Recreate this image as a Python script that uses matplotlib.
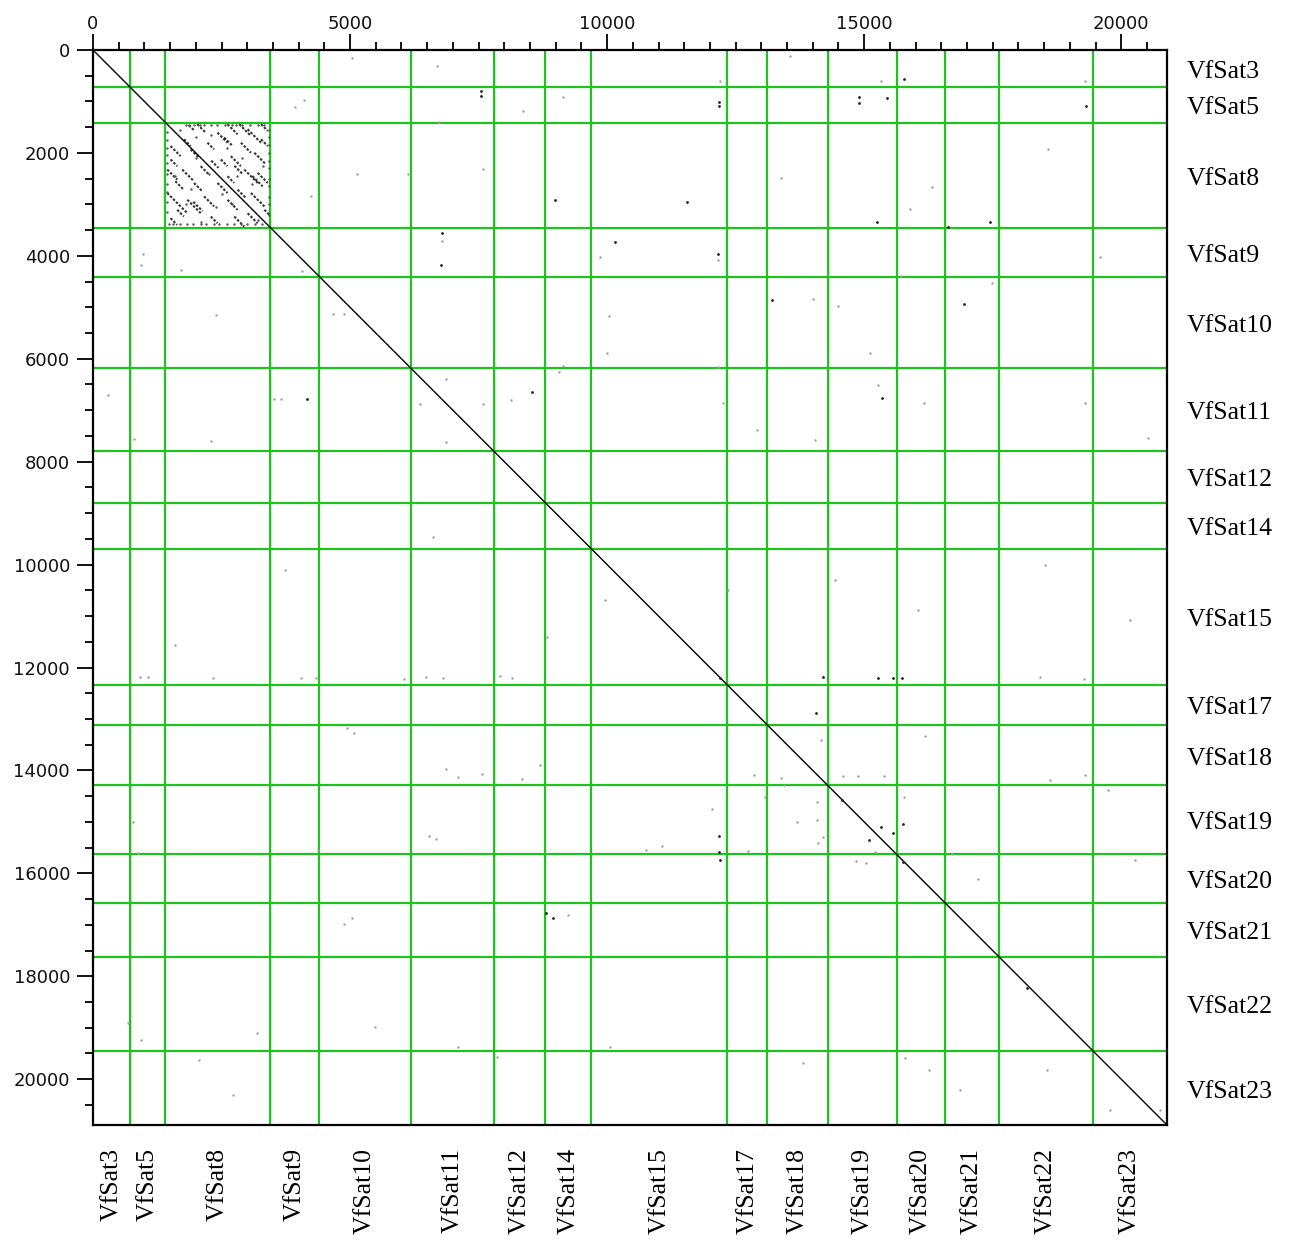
import matplotlib
matplotlib.use("Agg")
import matplotlib.pyplot as plt
from matplotlib.ticker import MultipleLocator, FixedLocator
from matplotlib.transforms import offset_copy
import numpy as np

# ---------------- data ----------------
seq_names = ["VfSat3", "VfSat5", "VfSat8", "VfSat9", "VfSat10", "VfSat11", "VfSat12",
             "VfSat14", "VfSat15", "VfSat17", "VfSat18", "VfSat19", "VfSat20",
             "VfSat21", "VfSat22", "VfSat23"]
# cumulative boundaries (sequence end positions)
seq_ends = [720, 1410, 3450, 4404, 6183, 7797, 8798, 9693, 12337, 13115,
            14291, 15633, 16576, 17616, 19454, 20890]

x_major_ticks = [0, 5000, 10000, 15000, 20000]
y_major_ticks = [0, 2000, 4000, 6000, 8000, 10000, 12000, 14000, 16000, 18000, 20000]

# VfSat8 internal repeat dashes: (x start, y start, length)
rep_x = [2029, 2616, 2844, 3268, 1866, 2421, 3007, 1899, 1508, 2877, 3138, 2095,
         2681, 1736, 1443, 3203, 2421, 2942, 2616, 1443, 1834, 2160, 2616, 3073,
         2290, 2747, 3007, 1508, 3333, 1769, 2225, 1508, 3268, 1964, 2812, 1638, 2486,
         2550, 1950, 3100, 2300, 1600, 2750]
rep_y = [1443, 1443, 1443, 1443, 1462, 1606, 1540, 1932, 1866, 1801, 1997, 2258,
         2062, 2323, 2323, 2388, 2584, 2323, 2453, 2779, 2910, 2844, 2910, 2779,
         3236, 3236, 3171, 3268, 3105, 1736, 1801, 2127, 1736, 2584, 2714, 3105, 2127,
         1700, 2950, 2450, 2150, 2550, 2250]
rep_len = [163, 196, 228, 130, 98, 196, 261, 163, 196, 196, 228, 163,
           196, 228, 196, 196, 196, 261, 130, 391, 261, 196, 196, 261,
           130, 196, 196, 130, 98, 130, 130, 130, 130, 163, 163, 130, 130,
           150, 180, 200, 140, 160, 170]

# faint dots inside VfSat8 self block
box_dot_x = [1800, 1870, 1960, 2080, 2150, 2300, 2420, 2560, 2700, 2780, 2900, 3050, 3200, 3330,
             1480, 1560, 1700, 1830, 1950, 2100, 2200, 2350, 2450, 2600, 2750, 2880, 3000, 3150, 3280,
             1440, 1440, 1440, 1440, 1440, 1440, 1440, 1440, 1440, 1440,
             3420, 3420, 3420, 3420, 3420, 3420, 3420, 3420, 3420, 3420, 3420,
             1700, 2000, 2300, 2600, 2900, 1600, 2000, 2250, 2500, 3100, 1800, 2100, 2700,
             3200, 1900, 2400, 2800, 3300]
box_dot_y = [1450, 1450, 1450, 1450, 1450, 1450, 1450, 1450, 1450, 1450, 1450, 1450, 1450, 1450,
             3390, 3390, 3390, 3390, 3390, 3390, 3390, 3390, 3390, 3390, 3390, 3390, 3390, 3390, 3390,
             1600, 1750, 1900, 2050, 2200, 2400, 2600, 2750, 2950, 3150,
             1550, 1700, 1850, 2000, 2150, 2300, 2500, 2650, 2850, 3000, 3200,
             1550, 1700, 1650, 1900, 2100, 2450, 2100, 2400, 2800, 2600, 3000, 3350, 3000,
             3300, 2700, 3050, 2450, 2250]

# darker scattered hits
dark_x = [15451, 15784, 7552, 7552, 12174, 12174, 14892, 14892, 19314, 6767, 6793, 12161,
          12196, 14563, 15762, 18166, 15328, 15749, 15094, 15567, 12183, 12183, 12196, 8947,
          8811, 15275, 15567, 15730, 14206, 14064, 16623, 15251, 17449, 10150, 11562, 8991,
          4156, 8538, 15344, 16943, 13213]
dark_y = [939, 570, 790, 894, 1004, 1088, 907, 1024, 1088, 4179, 3550, 3965,
          12212, 14577, 15776, 18235, 15108, 15044, 15355, 15225, 15277, 15582, 15743, 16874,
          16777, 12200, 12200, 12200, 12180, 12880, 3434, 3337, 3337, 3725, 2948, 2916,
          6790, 6641, 6771, 4937, 4859]

# faint scattered hits
faint_x = [12188, 15318, 19287, 6727, 7592, 6793, 12161, 9857, 19580, 15718, 17489, 14492,
           14013, 4662, 4888, 4063, 972, 932, 1705, 10043, 15118, 9990, 12161, 9137, 9058,
           6860, 15265, 16157, 3530, 3663, 6367, 7592, 8125, 12254, 19287, 2291, 799, 6860,
           14053, 12920, 20513, 293, 2398, 16317, 15891, 5128, 6127, 13387, 4236, 18581,
           13560, 6687, 5035, 4103, 3929, 8365, 9137,
           914, 1070, 2334, 4046, 4337, 6049, 6477, 6808, 7916, 8150, 18419, 19275, 778, 875,
           4376, 6535, 6671, 5076, 4940, 7099, 6866, 7566, 8344, 8694, 9239, 4882, 5038,
           10756, 11067, 12040, 13070, 13440, 13693, 16182, 16708, 17213, 18614, 19294, 19742,
           20267, 3190, 681, 934, 2062, 2723, 5485, 7099, 7858, 10056, 13810, 15793, 16260,
           16863, 18555, 19780, 20753, 8830, 3734, 6613, 12351, 18516, 16046, 9958, 1595,
           14432, 20170, 14583, 14887, 15386, 13383, 12863, 14161, 14077, 14077, 14096, 14206,
           15775, 14841, 15030, 15211, 12746]
faint_y = [603, 603, 603, 1393, 2319, 3706, 4082, 4030, 4030, 4393, 4535, 4976,
           4833, 5138, 5138, 4296, 3965, 4179, 4276, 5164, 5896, 5896, 6155, 6136, 6252,
           6401, 6518, 6855, 6790, 6790, 6881, 6881, 6803, 6855, 6855, 7600, 7568, 7613,
           7580, 7386, 7548, 6706, 5151, 2656, 3097, 2410, 2410, 2494, 2831, 1924,
           117, 305, 162, 972, 1101, 1179, 907,
           12189, 12189, 12208, 12208, 12208, 12228, 12189, 12208, 12169, 12208, 12189, 12228, 15008, 15610,
           15552, 15280, 15338, 13278, 13180, 14133, 13977, 14075, 14172, 13900, 16815, 16991, 16874,
           15552, 15474, 14755, 14522, 14288, 15008, 13336, 15630, 16116, 14191, 14094, 14386,
           15746, 19110, 18915, 19246, 19634, 20315, 18993, 19382, 19576, 19382, 19693, 19595, 19829,
           20218, 19829, 20606, 20606, 11411, 10109, 9467, 10498, 10012, 10886, 10692, 11567,
           10303, 11081, 14111, 14111, 14111, 14156, 14092, 13411, 14610, 14966, 15406, 15290,
           14513, 15757, 15796, 15582, 15563]

# ---------------- figure ----------------
W, H = 1292, 1241
fig = plt.figure(figsize=(W / 100, H / 100), dpi=100)
ax = fig.add_axes([93 / W, (H - 1125) / H, 1074 / W, 1075 / H])

total = seq_ends[-1]
ax.set_xlim(0, total)
ax.set_ylim(total, 0)

green = "#1ec31e"
for b in seq_ends[:-1]:
    ax.axvline(b, color=green, lw=1.6, zorder=1)
    ax.axhline(b, color=green, lw=1.6, zorder=1)

# self-match diagonal
ax.plot([0, total], [0, total], color="black", lw=1.0, zorder=3)

# repeat dashes in VfSat8
for x0, y0, L in zip(rep_x, rep_y, rep_len):
    ax.plot([x0, x0 + L], [y0, y0 + L], color="black", lw=1.5, alpha=0.8,
            linestyle=(0, (1.2, 0.8)), zorder=3)
ax.scatter(box_dot_x, box_dot_y, s=3, color="#555555", linewidths=0, zorder=3)

ax.scatter(faint_x, faint_y, s=3, color="#a0a0a0", linewidths=0, zorder=2)
ax.scatter(dark_x, dark_y, s=4, color="#222222", linewidths=0, zorder=4)

# ticks
ax.xaxis.tick_top()
ax.xaxis.set_major_locator(FixedLocator(x_major_ticks))
ax.xaxis.set_minor_locator(MultipleLocator(500))
ax.yaxis.set_major_locator(FixedLocator(y_major_ticks))
ax.yaxis.set_minor_locator(MultipleLocator(500))
ax.tick_params(axis="both", which="major", length=11.5, width=1.3, labelsize=13,
               colors="black")
ax.tick_params(axis="x", which="major", pad=1)
ax.tick_params(axis="y", which="major", pad=5)
ax.tick_params(axis="both", which="minor", length=6, width=1.3)
for lab in ax.get_xticklabels() + ax.get_yticklabels():
    lab.set_fontfamily("DejaVu Sans")
    lab.set_color("#111111")

for s in ax.spines.values():
    s.set_linewidth(1.6)
    s.set_color("black")

# sequence name labels
starts = [0] + seq_ends[:-1]
mids = [(a + b) / 2 for a, b in zip(starts, seq_ends)]
label_font = dict(family="Liberation Serif", size=18.5, color="black")
right_tr = offset_copy(ax.get_yaxis_transform(), fig=fig, x=0, y=-2.5, units="points")
for name, m in zip(seq_names, mids):
    ax.text(1.0 + 20 / 1074, m, name, transform=right_tr,
            ha="left", va="center", **label_font)
    ax.text(m, -23 / 1075, name, transform=ax.get_xaxis_transform(),
            ha="center", va="top", rotation=90, **label_font)

fig.savefig("out.png", dpi=100)
